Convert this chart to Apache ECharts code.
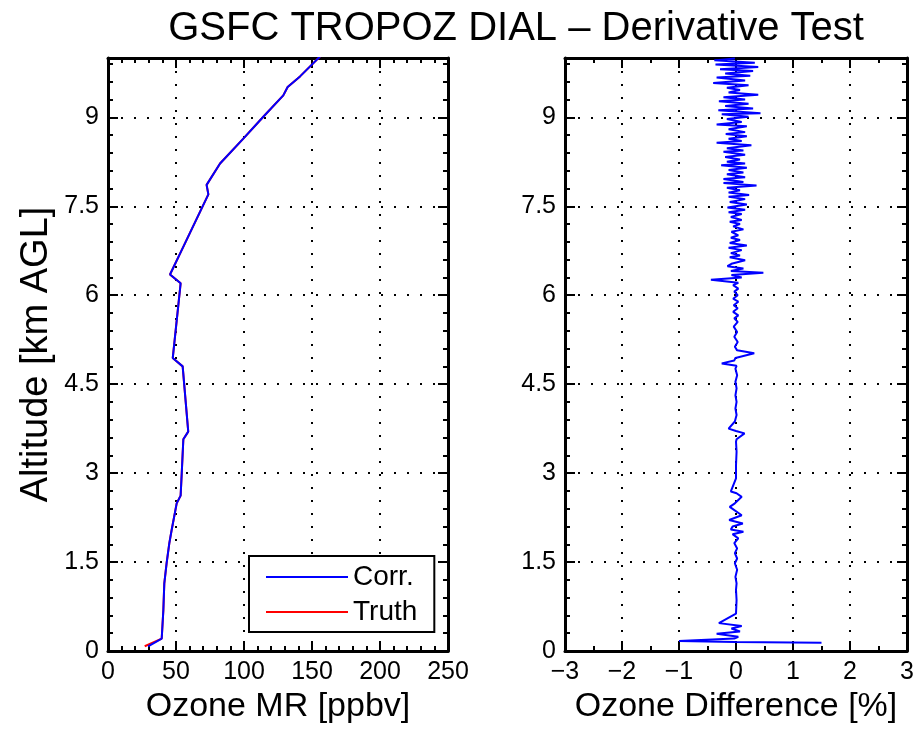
<!DOCTYPE html>
<html>
<head>
<meta charset="utf-8">
<title>GSFC TROPOZ DIAL – Derivative Test</title>
<script src="https://cdn.jsdelivr.net/npm/echarts@6/dist/echarts.min.js"></script>
<style>
    html, body { margin: 0; padding: 0; background: #fff; }
    #chart { width: 917px; height: 732px; }
</style>
</head>
<body>
<div id="chart"></div>
<script>
// Left panel: ozone mixing ratio profile (altitude km, ppbv)
const profileAlt = [0.08, 0.21, 0.69, 1.14, 1.48, 1.82, 2.04, 2.49, 2.62, 2.99, 3.57, 3.70, 4.80, 4.94, 6.20, 6.35, 6.76, 7.70, 7.86, 8.22, 8.64, 9.01, 9.37, 9.51, 9.69, 10.05];
const corrMR = [29.5, 39.5, 40.7, 41.4, 43.1, 45.1, 46.8, 50.5, 53.4, 54.2, 55.4, 59.0, 54.9, 47.6, 53.4, 45.6, 54.2, 73.8, 72.5, 82.4, 99.5, 114.2, 128.9, 132.1, 141.2, 157.0];
const truthMR = [27.0, 39.5, 40.7, 41.4, 43.1, 45.1, 46.8, 50.5, 53.4, 54.2, 55.4, 59.0, 54.9, 47.6, 53.4, 45.6, 54.2, 73.8, 72.5, 82.4, 99.5, 114.2, 128.9, 132.1, 141.2, 157.0];

// Right panel: ozone difference (%) vs altitude (km), top to bottom
const diffAlt = [
    9.99, 9.96, 9.92, 9.89, 9.85, 9.81, 9.78, 9.74, 9.70, 9.67, 9.62, 9.58, 9.54, 9.50, 9.46, 9.42, 9.38, 9.34, 9.30, 9.27,
    9.23, 9.19, 9.15, 9.12, 9.07, 9.05, 9.01, 8.97, 8.92, 8.88, 8.85, 8.80, 8.75, 8.72, 8.68, 8.64, 8.60, 8.57, 8.53, 8.48,
    8.44, 8.42, 8.37, 8.33, 8.29, 8.25, 8.22, 8.19, 8.15, 8.11, 8.07, 8.04, 7.99, 7.96, 7.91, 7.89, 7.85, 7.81, 7.77, 7.73,
    7.69, 7.66, 7.62, 7.57, 7.53, 7.48, 7.44, 7.40, 7.37, 7.32, 7.27, 7.24, 7.20, 7.16, 7.11, 7.07, 7.01, 6.97, 6.93, 6.88,
    6.84, 6.80, 6.76, 6.71, 6.67, 6.64, 6.59, 6.53, 6.49, 6.45, 6.41, 6.38, 6.34, 6.30, 6.26, 6.21, 6.17, 6.11, 6.06, 6.00,
    5.94, 5.89, 5.83, 5.78, 5.72, 5.66, 5.61, 5.55, 5.47, 5.38, 5.30, 5.21, 5.13, 5.07, 5.02, 4.94, 4.90, 4.85, 4.81, 4.76,
    4.65, 4.54, 4.43, 4.31, 4.20, 4.09, 3.98, 3.87, 3.75, 3.71, 3.67, 3.57, 3.53, 3.36, 3.13, 2.91, 2.69, 2.66, 2.60, 2.49,
    2.43, 2.29, 2.21, 2.15, 2.10, 2.05, 2.01, 1.97, 1.90, 1.82, 1.73, 1.65, 1.56, 1.48, 1.37, 1.25, 1.14, 1.03, 0.86, 0.63,
    0.47, 0.42, 0.38, 0.33, 0.29, 0.24, 0.21, 0.17, 0.15, 0.14, 0.12
];
const diffPct = [
    -0.02, -0.38, 0.33, -0.36, 0.39, -0.28, 0.30, -0.19, 0.25, -0.34, 0.16, -0.40, 0.22, -0.16, 0.07, -0.13, 0.39, -0.22, 0.16, -0.30,
    0.22, -0.19, 0.30, -0.31, 0.43, -0.25, 0.22, -0.16, 0.10, -0.34, 0.19, -0.13, 0.16, -0.18, 0.19, -0.13, 0.10, -0.34, 0.27, -0.16,
    0.13, -0.22, 0.16, -0.19, 0.07, -0.16, 0.16, -0.26, 0.19, -0.13, 0.13, -0.16, 0.16, -0.22, 0.13, -0.22, 0.36, -0.16, 0.07, -0.13,
    0.23, -0.13, 0.16, -0.11, 0.19, -0.15, 0.16, -0.13, 0.10, -0.09, 0.10, -0.11, 0.07, -0.05, 0.13, -0.08, 0.04, -0.09, 0.07, -0.11,
    0.19, -0.13, 0.10, -0.09, 0.07, -0.11, 0.16, -0.08, -0.15, 0.13, -0.09, 0.48, -0.08, 0.10, -0.44, 0.04, -0.05, 0.04, -0.03, 0.03,
    -0.05, 0.04, -0.04, 0.03, -0.05, 0.04, -0.03, 0.03, -0.04, 0.02, -0.03, 0.03, -0.02, 0.02, 0.32, -0.01, -0.03, -0.25, 0.01, -0.01,
    0.02, -0.01, 0.01, -0.01, 0.01, -0.01, 0.01, -0.02, -0.13, 0.00, 0.15, 0.01, 0.00, 0.01, 0.00, 0.00, -0.09, 0.01, 0.10, -0.02,
    -0.11, 0.10, -0.12, 0.12, -0.06, -0.09, 0.13, -0.06, 0.04, -0.03, 0.02, -0.02, 0.02, -0.02, 0.02, -0.01, 0.01, 0.00, 0.01, 0.00,
    -0.30, 0.10, -0.08, 0.07, -0.34, 0.04, -0.03, -1.00, -0.02, 1.50
];

const fontFamily = 'Liberation Sans';

function pairs(xs, ys) {
    return xs.map((x, i) => [x, ys[i]]);
}

function fmtNum(v) {
    const s = String(+v.toFixed(1));
    return s.replace('-', '\u2212');
}

// main axis (labels, grid lines)
function mainAxis(gridIndex, position, min, max, interval, minorSplit, name, nameGap, nameSize, showMax) {
    return {
        type: 'value',
        gridIndex: gridIndex,
        position: position,
        min: min,
        max: max,
        interval: interval,
        name: name,
        nameLocation: 'middle',
        nameGap: nameGap,
        nameTextStyle: { fontFamily: fontFamily, fontSize: nameSize, color: '#000' },
        axisLine: { show: true, onZero: false, lineStyle: { color: '#000', width: 3 } },
        axisTick: { show: true, inside: true, length: 10, lineStyle: { color: '#000', width: 2 } },
        minorTick: { show: true, splitNumber: minorSplit, length: 5, lineStyle: { color: '#000', width: 2 } },
        axisLabel: {
            fontFamily: fontFamily, fontSize: 25, color: '#000', margin: 9,
            showMaxLabel: showMax, formatter: fmtNum
        },
        splitLine: { show: true, lineStyle: { color: '#000', width: 2, type: [2, 11] } }
    };
}

// opposite side of the box, ticks only
function frameAxis(gridIndex, position, min, max, interval, minorSplit) {
    return {
        type: 'value',
        gridIndex: gridIndex,
        position: position,
        min: min,
        max: max,
        interval: interval,
        axisLine: { show: true, onZero: false, lineStyle: { color: '#000', width: 3 } },
        axisTick: { show: true, inside: true, length: 10, lineStyle: { color: '#000', width: 2 } },
        minorTick: { show: true, splitNumber: minorSplit, length: 5, lineStyle: { color: '#000', width: 2 } },
        axisLabel: { show: false },
        splitLine: { show: false }
    };
}

const chart = echarts.init(document.getElementById('chart'));

chart.setOption({
    animation: false,
    backgroundColor: '#fff',
    graphic: [{
        type: 'text',
        x: 516,
        y: 9,
        style: {
            text: 'GSFC TROPOZ DIAL \u2013 Derivative Test',
            fontFamily: fontFamily,
            fontSize: 40,
            fill: '#000',
            align: 'center',
            verticalAlign: 'top'
        }
    }],
    grid: [
        { left: 108, top: 58, width: 340, height: 593 },
        { left: 565, top: 58, width: 342, height: 593 }
    ],
    xAxis: [
        mainAxis(0, 'bottom', 0, 250, 50, 5, 'Ozone MR [ppbv]', 10, 34, true),
        frameAxis(0, 'top', 0, 250, 50, 5),
        mainAxis(1, 'bottom', -3, 3, 1, 2, 'Ozone Difference [%]', 10, 34, true),
        frameAxis(1, 'top', -3, 3, 1, 2)
    ],
    yAxis: [
        mainAxis(0, 'left', 0, 10, 1.5, 5, 'Altitude [km AGL]', 52, 38, false),
        frameAxis(0, 'right', 0, 10, 1.5, 5),
        mainAxis(1, 'left', 0, 10, 1.5, 5, '', 0, 34, false),
        frameAxis(1, 'right', 0, 10, 1.5, 5)
    ],
    legend: {
        data: ['Corr.', 'Truth'],
        orient: 'vertical',
        left: 249,
        top: 556,
        padding: [7, 17, 6, 17],
        itemGap: 7,
        itemWidth: 82,
        itemHeight: 2,
        icon: 'rect',
        borderColor: '#000',
        borderWidth: 2,
        borderRadius: 0,
        backgroundColor: '#fff',
        textStyle: { fontFamily: fontFamily, fontSize: 28, color: '#000' }
    },
    series: [
        {
            name: 'Truth',
            type: 'line',
            xAxisIndex: 0,
            yAxisIndex: 0,
            data: pairs(truthMR, profileAlt),
            symbol: 'none',
            z: 2,
            lineStyle: { color: '#ff0000', width: 2 },
            itemStyle: { color: '#ff0000' }
        },
        {
            name: 'Corr.',
            type: 'line',
            xAxisIndex: 0,
            yAxisIndex: 0,
            data: pairs(corrMR, profileAlt),
            symbol: 'none',
            z: 3,
            lineStyle: { color: '#0000ff', width: 2 },
            itemStyle: { color: '#0000ff' }
        },
        {
            name: 'Difference',
            type: 'line',
            xAxisIndex: 2,
            yAxisIndex: 2,
            data: pairs(diffPct, diffAlt),
            symbol: 'none',
            z: 3,
            lineStyle: { color: '#0000ff', width: 2 },
            itemStyle: { color: '#0000ff' }
        }
    ]
});
</script>
</body>
</html>
